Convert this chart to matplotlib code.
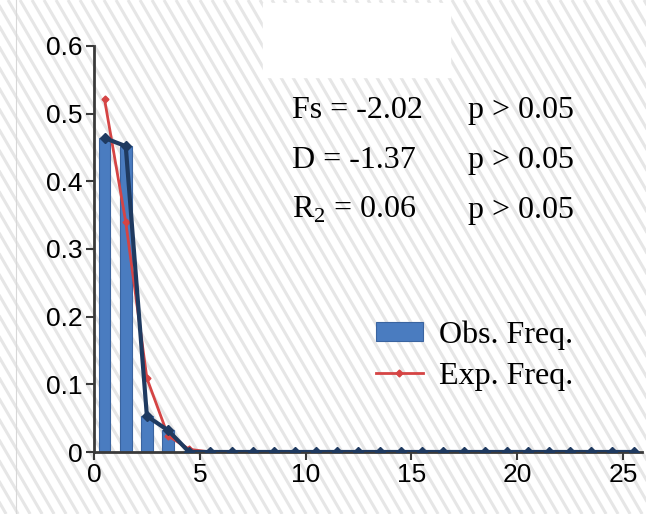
import numpy as np
import matplotlib
matplotlib.use("Agg")
import matplotlib.pyplot as plt
from matplotlib.patches import Rectangle

# mismatch classes (bars / points sit at the middle of each class)
classes = np.arange(26)
obs_freq = [0.464, 0.452, 0.053, 0.032] + [0.0] * 22
exp_freq = [0.521, 0.340, 0.109, 0.024, 0.004] + [0.0] * 21

stats_labels = ["Fs = -2.02", "D = -1.37", r"R$_{2}$ = 0.06"]
p_labels = ["p > 0.05", "p > 0.05", "p > 0.05"]

plt.rcParams["mathtext.fontset"] = "custom"
plt.rcParams["mathtext.rm"] = "Liberation Serif"

fig = plt.figure(figsize=(6.46, 5.14), dpi=100)

# hatched page background
bg = fig.add_axes([0, 0, 1, 1], zorder=-5)
bg.set_xlim(0, 646)
bg.set_ylim(514, 0)
bg.axis("off")
slope = 0.58
for c in range(-400, 700, 12):
    bg.plot([c, c + 514 * slope], [0, 514], color="#e6e6e6", lw=2.2,
            solid_capstyle="butt")
bg.add_patch(Rectangle((263, 3), 187, 74, color="white", zorder=3))
bg.plot([16, 16], [0, 514], color="#d8d8d8", lw=0.8)

ax = fig.add_axes([94 / 646, 1 - 452 / 514, 548 / 646, 406 / 514])
ax.patch.set_alpha(0)

x = classes + 0.5
bars = ax.bar(x, obs_freq, width=0.55, color="#4a7cc0", edgecolor="#3a64a0",
              linewidth=0.8, label="Obs. Freq.", zorder=2)
exp_line, = ax.plot(x, exp_freq, color="#d54444", lw=2, marker="D", ms=3.5,
                    label="Exp. Freq.", zorder=3)
ax.plot(x, obs_freq, color="#1f3a60", lw=3, marker="D", ms=5, zorder=4)

ax.set_xlim(0, 25.9)
ax.set_ylim(0, 0.6)
ax.set_xticks([0, 5, 10, 15, 20, 25])
ax.set_yticks([0, 0.1, 0.2, 0.3, 0.4, 0.5, 0.6])
ax.set_yticklabels(["0", "0.1", "0.2", "0.3", "0.4", "0.5", "0.6"])
for s in ["top", "right"]:
    ax.spines[s].set_visible(False)
for s in ["left", "bottom"]:
    ax.spines[s].set_color("#3a3a3a")
    ax.spines[s].set_linewidth(2)
ax.tick_params(length=6, width=1.5, color="#3a3a3a", labelsize=19,
               pad=2)
for lab in ax.get_xticklabels() + ax.get_yticklabels():
    lab.set_fontfamily("Liberation Sans")

for i, (s, p) in enumerate(zip(stats_labels, p_labels)):
    yy = 118 + i * 50
    fig.text(292 / 646, 1 - yy / 514, s, family="Liberation Serif",
             fontsize=23, va="baseline")
    fig.text(468 / 646, 1 - yy / 514, p, family="Liberation Serif",
             fontsize=23, va="baseline")

ax.legend([bars, exp_line], ["Obs. Freq.", "Exp. Freq."],
          loc="upper left", bbox_to_anchor=(0.515, 0.325),
          frameon=False, prop={"family": "Liberation Serif", "size": 23},
          handlelength=1.45, handleheight=0.55, labelspacing=0.38,
          handletextpad=0.5, borderaxespad=0, borderpad=0)

fig.savefig("out.png", dpi=100)
